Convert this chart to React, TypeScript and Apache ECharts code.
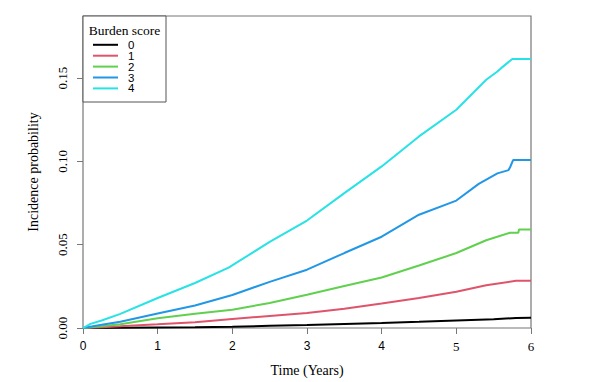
import React, { useEffect, useRef } from "react";
import * as echarts from "echarts";

const seriesNames = ["0", "1", "2", "3", "4"];
const seriesColors = ["#000000", "#DF536B", "#61D04F", "#2297E6", "#28E2E5"];

const t0 = [0, 0.5, 1, 1.5, 2, 2.5, 3, 3.5, 4, 4.5, 5, 5.5, 5.8, 6];
const v0 = [0, 0.0001, 0.0003, 0.0005, 0.0008, 0.0013, 0.0018, 0.0024, 0.003, 0.0037, 0.0045, 0.0053, 0.006, 0.0062];

const t1 = [0, 0.25, 0.5, 1, 1.5, 2, 2.5, 3, 3.5, 4, 4.5, 5, 5.4, 5.8, 6];
const v1 = [0, 0.0005, 0.001, 0.0022, 0.0035, 0.0054, 0.0072, 0.009, 0.0115, 0.0147, 0.018, 0.0218, 0.0257, 0.0283, 0.0283];

const t2 = [0, 0.25, 0.5, 1, 1.5, 2, 2.5, 3, 3.5, 4, 4.5, 5, 5.4, 5.72, 5.83, 5.84, 6];
const v2 = [0, 0.001, 0.0022, 0.0058, 0.0085, 0.011, 0.015, 0.02, 0.0252, 0.0303, 0.0375, 0.045, 0.0527, 0.0572, 0.0572, 0.0592, 0.0592];

const t3 = [0, 0.25, 0.5, 1, 1.5, 2, 2.5, 3, 3.5, 4, 4.5, 5, 5.3, 5.55, 5.7, 5.72, 5.76, 6];
const v3 = [0, 0.002, 0.0038, 0.0087, 0.0135, 0.0198, 0.0277, 0.035, 0.045, 0.0548, 0.068, 0.0765, 0.0865, 0.0928, 0.0948, 0.0965, 0.1008, 0.1008];

const t4 = [0, 0.1, 0.25, 0.5, 1, 1.5, 1.95, 2.5, 3, 3.5, 4, 4.5, 5, 5.4, 5.55, 5.6, 5.75, 6];
const v4 = [0, 0.0025, 0.0045, 0.0085, 0.018, 0.027, 0.0362, 0.0517, 0.0645, 0.081, 0.097, 0.115, 0.131, 0.149, 0.154, 0.156, 0.1615, 0.1615];

const times = [t0, t1, t2, t3, t4];
const values = [v0, v1, v2, v3, v4];

const yTicks = [0, 0.05, 0.1, 0.15];

const legendTitle = "Burden score";
const xName = "Time (Years)";
const yName = "Incidence probability";

export default function App() {
  const ref = useRef<HTMLDivElement>(null);
  useEffect(() => {
    document.body.style.margin = "0";
    const chart = echarts.init(ref.current!, null, { renderer: "svg" });
    const serif = "Liberation Serif";
    const sans = "Liberation Sans";
    const legendItems: any[] = [];
    seriesNames.forEach((n, i) => {
      const y = 44.8 + i * 10.9;
      legendItems.push({
        type: "line",
        shape: { x1: 93, y1: y, x2: 118, y2: y },
        style: { stroke: seriesColors[i], lineWidth: 2 },
      });
      legendItems.push({
        type: "text",
        x: 128,
        y: y,
        style: {
          text: n,
          fill: "#000",
          fontFamily: sans,
          fontSize: 11.5,
          lineHeight: 10,
          verticalAlign: "middle",
          align: "left",
        },
      });
    });
    chart.setOption({
      animation: false,
      grid: {
        left: 83,
        right: 69,
        top: 16,
        bottom: 54,
        show: true,
        borderColor: "#777",
        borderWidth: 1.2,
        backgroundColor: "transparent",
      },
      xAxis: {
        type: "value",
        min: 0,
        max: 6,
        interval: 1,
        name: xName,
        nameLocation: "middle",
        nameGap: 35,
        nameTextStyle: { fontFamily: serif, fontSize: 14, color: "#000" },
        axisLine: { show: false },
        splitLine: { show: false },
        axisTick: { show: true, length: 6, lineStyle: { color: "#777" } },
        axisLabel: {
          margin: 12,
          formatter: (v: number) => (v >= 5 ? `{s|${v}}` : `{a|${v}}`),
          rich: {
            a: { fontFamily: sans, fontSize: 12, color: "#000" },
            s: { fontFamily: serif, fontSize: 13, color: "#000" },
          },
        },
      },
      yAxis: {
        type: "value",
        min: 0,
        max: 0.1873,
        interval: 0.05,
        name: yName,
        nameLocation: "middle",
        nameGap: 43,
        nameTextStyle: { fontFamily: serif, fontSize: 14, color: "#000" },
        axisLine: { show: false },
        splitLine: { show: false },
        axisTick: { show: true, length: 6, lineStyle: { color: "#777" }, customValues: yTicks },
        axisLabel: {
          rotate: 90,
          margin: 14,
          fontFamily: serif,
          fontSize: 13,
          color: "#000",
          customValues: yTicks,
          formatter: (v: number) => v.toFixed(2),
        },
      },
      series: seriesNames.map((n, i) => ({
        name: n,
        type: "line",
        showSymbol: false,
        symbol: "none",
        lineStyle: { color: seriesColors[i], width: 2 },
        itemStyle: { color: seriesColors[i] },
        data: times[i].map((t, j) => [t, values[i][j]]),
        z: 2 + i,
      })),
      graphic: [
        {
          type: "group",
          z: 100,
          children: [
            {
              type: "rect",
              shape: { x: 83, y: 16, width: 83, height: 86 },
              style: { fill: "#fff", stroke: "#555", lineWidth: 1 },
            },
            {
              type: "text",
              x: 124.5,
              y: 30.5,
              style: {
                text: legendTitle,
                fill: "#000",
                fontFamily: serif,
                fontSize: 13.5,
                lineHeight: 12,
                align: "center",
                verticalAlign: "middle",
              },
            },
            ...legendItems,
          ],
        },
      ],
    });
    return () => chart.dispose();
  }, []);
  return <div ref={ref} style={{ width: 600, height: 382 }} />;
}
